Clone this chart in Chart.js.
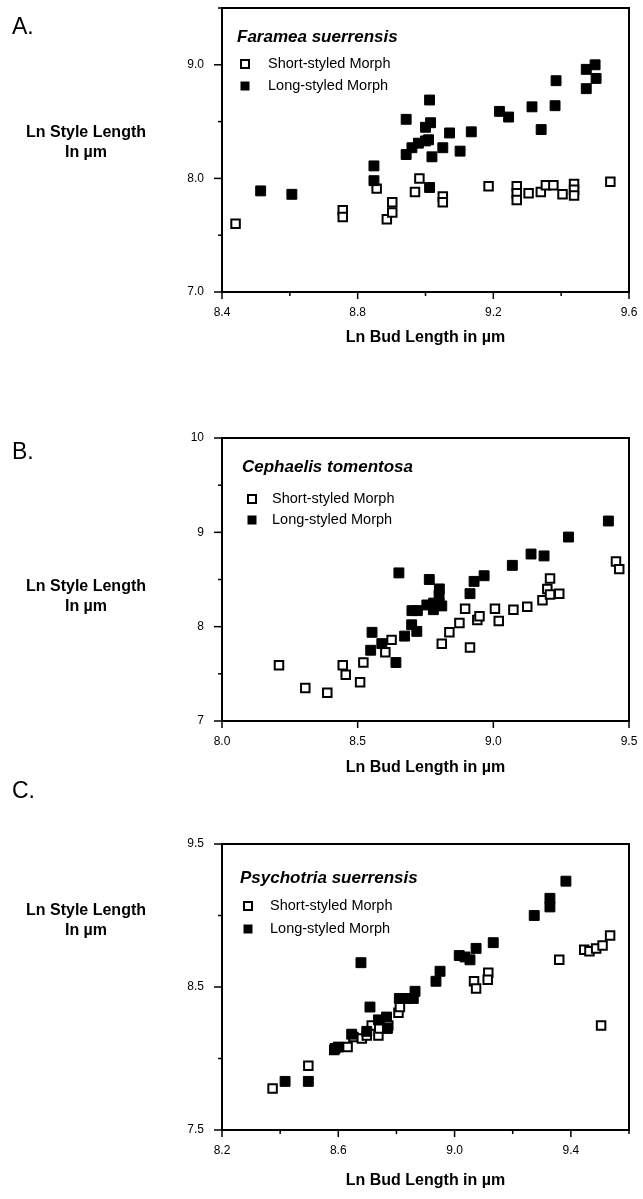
<!DOCTYPE html>
<html><head><meta charset="utf-8">
<script src="https://cdn.jsdelivr.net/npm/chart.js@4"></script>
<style>
html,body{margin:0;padding:0;background:#fff;width:643px;height:1199px;overflow:hidden}
canvas{position:absolute;left:0}
</style></head><body>
<canvas id="cA" width="643" height="370" style="top:0px"></canvas>
<canvas id="cB" width="643" height="430" style="top:370px"></canvas>
<canvas id="cC" width="643" height="439" style="top:760px"></canvas>
<script>
// ---------- Panel A: Faramea suerrensis ----------
const aShortX = [8.44,8.756,8.756,8.856,8.886,8.902,8.902,8.969,8.982,9.051,9.051,9.186,9.269,9.269,9.269,9.304,9.34,9.355,9.377,9.404,9.438,9.438,9.438,9.545];
const aShortY = [7.60,7.72,7.66,7.91,7.64,7.79,7.70,7.88,8.00,7.84,7.79,7.93,7.93,7.87,7.81,7.87,7.88,7.94,7.94,7.86,7.95,7.90,7.85,7.97];
const aLongX = [8.514,8.606,8.848,8.848,8.943,8.943,8.96,8.979,9.0,9.009,9.012,9.0,9.015,9.019,9.012,9.051,9.071,9.102,9.135,9.218,9.245,9.314,9.341,9.385,9.382,9.474,9.50,9.503,9.474];
const aLongY = [7.89,7.86,8.11,7.98,8.52,8.21,8.27,8.31,8.33,8.34,8.69,8.45,8.49,8.19,7.92,8.27,8.40,8.24,8.41,8.59,8.54,8.63,8.43,8.86,8.64,8.96,9.00,8.88,8.79];
const aXTicks = [8.4,8.6,8.8,9.0,9.2,9.4,9.6];
const aXLabels = ['8.4','','8.8','','9.2','','9.6'];
const aYTicks = [7.0,7.5,8.0,8.5,9.0,9.5];
const aYLabels = ['7.0','','8.0','','9.0',''];

// ---------- Panel B: Cephaelis tomentosa ----------
const bShortX = [8.21,8.307,8.388,8.445,8.456,8.509,8.521,8.602,8.625,8.81,8.838,8.875,8.896,8.914,8.941,8.949,9.006,9.02,9.074,9.125,9.181,9.199,9.209,9.209,9.243,9.452,9.464];
const bShortY = [7.59,7.35,7.30,7.59,7.49,7.41,7.62,7.73,7.86,7.82,7.94,8.04,8.19,7.78,8.07,8.11,8.19,8.06,8.18,8.21,8.28,8.40,8.51,8.34,8.35,8.69,8.61];
const bLongX = [8.548,8.553,8.589,8.641,8.652,8.673,8.699,8.70,8.72,8.718,8.764,8.755,8.779,8.78,8.80,8.801,8.80,8.81,8.914,8.929,8.966,9.07,9.139,9.187,9.277,9.424];
const bLongY = [7.75,7.94,7.82,7.62,8.57,7.90,8.02,8.17,8.17,7.95,8.50,8.23,8.18,8.25,8.25,8.40,8.33,8.22,8.35,8.48,8.54,8.65,8.77,8.75,8.95,9.12];
const bXTicks = [8.0,8.5,9.0,9.5];
const bXLabels = ['8.0','8.5','9.0','9.5'];
const bYTicks = [7,7.5,8,8.5,9,9.5,10];
const bYLabels = ['7','','8','','9','','10'];

// ---------- Panel C: Psychotria suerrensis ----------
const cShortX = [8.374,8.497,8.586,8.632,8.652,8.681,8.698,8.715,8.738,8.741,8.772,8.807,8.812,9.067,9.074,9.116,9.114,9.36,9.446,9.464,9.487,9.509,9.535,9.504];
const cShortY = [7.79,7.95,8.06,8.08,8.15,8.14,8.16,8.23,8.16,8.21,8.23,8.32,8.36,8.54,8.49,8.60,8.55,8.69,8.76,8.75,8.77,8.79,8.86,8.23];
const cLongX = [8.417,8.497,8.589,8.60,8.646,8.678,8.709,8.698,8.738,8.766,8.769,8.81,8.835,8.864,8.858,8.936,8.95,9.016,9.036,9.053,9.074,9.133,9.274,9.328,9.328,9.383];
const cLongY = [7.84,7.84,8.07,8.08,8.17,8.67,8.36,8.19,8.27,8.29,8.21,8.42,8.42,8.47,8.42,8.54,8.61,8.72,8.71,8.69,8.77,8.81,9.00,9.12,9.06,9.24];
const cXTicks = [8.2,8.4,8.6,8.8,9.0,9.2,9.4,9.6];
const cXLabels = ['8.2','','8.6','','9.0','','9.4',''];
const cYTicks = [7.5,8.0,8.5,9.0,9.5];
const cYLabels = ['7.5','','8.5','','9.5'];

const seriesNames = ['Short-styled Morph','Long-styled Morph'];
const yTitle = ['Ln Style Length','In µm'];
const xTitle = 'Ln Bud Length in µm';

const FONT = '"Liberation Sans", Arial, Helvetica, sans-serif';

const decor = {
  id: 'decor',
  afterDraw(chart, args, o) {
    const ctx = chart.ctx, ca = chart.chartArea;
    const xs = chart.scales.x, ys = chart.scales.y;
    ctx.save();
    ctx.strokeStyle = '#000';
    ctx.lineWidth = 2;
    ctx.beginPath();
    ctx.moveTo(ca.left - 1, ca.top);
    ctx.lineTo(ca.right, ca.top);
    ctx.lineTo(ca.right, ca.bottom + 1);
    ctx.stroke();
    // tick marks
    ctx.lineWidth = 1.5;
    o.xTicks.forEach((v, i) => {
      const px = xs.getPixelForValue(v);
      const len = o.xLabels[i] ? 7 : 4;
      ctx.beginPath(); ctx.moveTo(px, ca.bottom); ctx.lineTo(px, ca.bottom + len); ctx.stroke();
    });
    o.yTicks.forEach((v, i) => {
      const py = ys.getPixelForValue(v);
      const len = o.yLabels[i] ? 8 : 4;
      ctx.beginPath(); ctx.moveTo(ca.left, py); ctx.lineTo(ca.left - len, py); ctx.stroke();
    });
    ctx.fillStyle = '#000';
    ctx.textBaseline = 'middle';
    // panel letter
    ctx.font = '23px ' + FONT;
    ctx.textAlign = 'left';
    ctx.fillText(o.letter, 12, o.letterY);
    // y title
    ctx.font = 'bold 16px ' + FONT;
    ctx.textAlign = 'center';
    ctx.fillText(yTitle[0], 86, o.yTitleY);
    ctx.fillText(yTitle[1], 86, o.yTitleY + 20);
    // x title
    ctx.fillText(xTitle, (ca.left + ca.right) / 2, o.xTitleY);
    // legend title
    ctx.textAlign = 'left';
    ctx.font = 'italic bold 17px ' + FONT;
    ctx.fillText(o.species, o.legX, o.legTitleY);
    // legend entries
    ctx.font = '14.5px ' + FONT;
    ctx.fillText(seriesNames[0], o.legTextX, o.legY1);
    ctx.fillText(seriesNames[1], o.legTextX, o.legY2);
    ctx.lineWidth = 2;
    ctx.fillStyle = '#fff';
    ctx.fillRect(o.legMarkX - 4, o.legY1 - 4, 8, 8);
    ctx.strokeRect(o.legMarkX - 4, o.legY1 - 4, 8, 8);
    ctx.fillStyle = '#000';
    ctx.fillRect(o.legMarkX - 4.5, o.legY2 - 4.5, 9, 9);
    ctx.restore();
  }
};

function pts(xs, ys) { return xs.map((x, i) => ({x: x, y: ys[i]})); }

function panel(id, p) {
  const cv = document.getElementById(id);
  const H = cv.height;
  return new Chart(cv, {
    type: 'scatter',
    data: { datasets: [
      { label: seriesNames[0], data: pts(p.sx, p.sy), pointStyle: 'rect', pointRadius: 6, pointHoverRadius: 6,
        pointBackgroundColor: '#fff', pointBorderColor: '#000', pointBorderWidth: 2, order: 2 },
      { label: seriesNames[1], data: pts(p.lx, p.ly), pointStyle: 'rect', pointRadius: 7, pointHoverRadius: 7,
        pointBackgroundColor: '#000', pointBorderColor: '#000', pointBorderWidth: 1, order: 1 }
    ]},
    options: {
      responsive: false, animation: false, devicePixelRatio: 1,
      events: [],
      layout: { padding: { left: 0, right: 14, top: p.top, bottom: 0 } },
      plugins: { legend: { display: false }, tooltip: { enabled: false }, decor: p },
      scales: {
        x: {
          type: 'linear', min: p.xTicks[0], max: p.xTicks[p.xTicks.length - 1],
          afterBuildTicks: s => { s.ticks = p.xTicks.map(v => ({value: v})); },
          afterFit: s => { s.height = H - p.bottom; s.paddingLeft = 0; s.paddingRight = 0; },
          ticks: { autoSkip: false, maxRotation: 0, padding: 13, color: '#000',
                   font: { family: FONT, size: 12 }, callback: (v, i) => p.xLabels[i] },
          grid: { drawOnChartArea: false, drawTicks: false },
          border: { color: '#000', width: 2 }
        },
        y: {
          type: 'linear', min: p.yTicks[0], max: p.yTicks[p.yTicks.length - 1],
          afterBuildTicks: s => { s.ticks = p.yTicks.map(v => ({value: v})); },
          afterFit: s => { s.width = 222; s.paddingTop = 0; s.paddingBottom = 0; },
          ticks: { autoSkip: false, padding: 18, color: '#000',
                   font: { family: FONT, size: 12 }, callback: (v, i) => p.yLabels[i] },
          grid: { drawOnChartArea: false, drawTicks: false },
          border: { color: '#000', width: 2 }
        }
      }
    },
    plugins: [decor]
  });
}

// local coordinates: canvas A starts at y=0, B at y=370, C at y=760
panel('cA', { sx: aShortX, sy: aShortY, lx: aLongX, ly: aLongY,
  xTicks: aXTicks, xLabels: aXLabels, yTicks: aYTicks, yLabels: aYLabels,
  top: 5, bottom: 292, letter: 'A.', letterY: 28, yTitleY: 133, xTitleY: 338,
  species: 'Faramea suerrensis', legX: 237, legTitleY: 37, legMarkX: 245, legTextX: 268, legY1: 64, legY2: 86 });

panel('cB', { sx: bShortX, sy: bShortY, lx: bLongX, ly: bLongY,
  xTicks: bXTicks, xLabels: bXLabels, yTicks: bYTicks, yLabels: bYLabels,
  top: 68, bottom: 351, letter: 'B.', letterY: 83, yTitleY: 217, xTitleY: 398,
  species: 'Cephaelis tomentosa', legX: 242, legTitleY: 97, legMarkX: 252, legTextX: 272, legY1: 129, legY2: 150 });

panel('cC', { sx: cShortX, sy: cShortY, lx: cLongX, ly: cLongY,
  xTicks: cXTicks, xLabels: cXLabels, yTicks: cYTicks, yLabels: cYLabels,
  top: 84, bottom: 370, letter: 'C.', letterY: 32, yTitleY: 151, xTitleY: 421,
  species: 'Psychotria suerrensis', legX: 240, legTitleY: 118, legMarkX: 248, legTextX: 270, legY1: 146, legY2: 169 });
</script>
</body></html>
